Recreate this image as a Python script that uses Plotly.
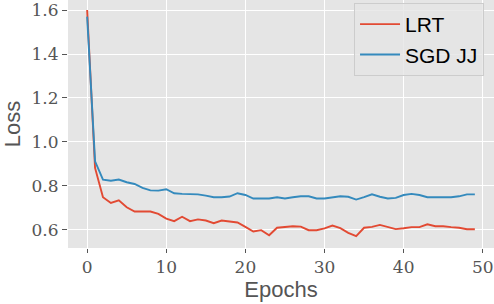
import plotly.graph_objects as go

epochs = list(range(50))
lrt = [1.60, 0.882, 0.749, 0.723, 0.735, 0.703, 0.684, 0.684, 0.684, 0.673,
       0.652, 0.640, 0.660, 0.640, 0.648, 0.643, 0.631, 0.643, 0.639, 0.634,
       0.614, 0.593, 0.599, 0.576, 0.610, 0.613, 0.617, 0.615, 0.599, 0.599,
       0.607, 0.620, 0.608, 0.587, 0.572, 0.610, 0.614, 0.623, 0.613, 0.604,
       0.608, 0.613, 0.613, 0.626, 0.617, 0.617, 0.613, 0.610, 0.603, 0.603]
sgd_jj = [1.57, 0.912, 0.829, 0.824, 0.829, 0.817, 0.809, 0.791, 0.780, 0.779,
          0.785, 0.767, 0.764, 0.764, 0.762, 0.756, 0.749, 0.749, 0.752, 0.767,
          0.759, 0.743, 0.743, 0.743, 0.749, 0.743, 0.749, 0.753, 0.753, 0.743,
          0.743, 0.749, 0.753, 0.751, 0.738, 0.749, 0.762, 0.751, 0.743, 0.746,
          0.759, 0.764, 0.759, 0.749, 0.749, 0.749, 0.749, 0.753, 0.762, 0.762]
x_ticks = [0, 10, 20, 30, 40, 50]
y_ticks = [0.6, 0.8, 1.0, 1.2, 1.4, 1.6]
y_tick_text = ["0.6", "0.8", "1.0", "1.2", "1.4", "1.6"]

fig = go.Figure()
fig.add_trace(go.Scatter(x=epochs, y=lrt, mode="lines", name="LRT",
                         line=dict(color="#E24A33", width=1.9)))
fig.add_trace(go.Scatter(x=epochs, y=sgd_jj, mode="lines", name="SGD JJ",
                         line=dict(color="#348ABD", width=1.9)))

tick_font = dict(family="DejaVu Serif", size=17, color="#555555")
title_font = dict(family="Liberation Sans, Arial, sans-serif", size=22, color="#555555")

fig.update_layout(
    width=494, height=304,
    margin=dict(l=67.5, r=0, t=0, b=56, autoexpand=False),
    paper_bgcolor="white",
    plot_bgcolor="#E5E5E5",
    showlegend=True,
    legend=dict(
        x=0.9766, y=0.988, xanchor="right", yanchor="top",
        bgcolor="rgba(229,229,229,0.8)", bordercolor="#CCCCCC", borderwidth=1,
        font=dict(family="Liberation Sans, Arial, sans-serif", size=21, color="black"),
        tracegroupgap=0, itemwidth=40,
    ),
    xaxis=dict(
        range=[-2.42, 51.42], tickvals=x_ticks, ticktext=[str(v) for v in x_ticks],
        showgrid=True, gridcolor="white", gridwidth=1.3, zeroline=False,
        ticks="outside", ticklen=4, tickcolor="#555555", tickwidth=1,
        tickfont=tick_font, showline=False, automargin=False,
        ticklabeloverflow="allow",
        title=dict(text="Epochs", font=title_font, standoff=4),
    ),
    yaxis=dict(
        range=[0.518, 1.6455], tickvals=y_ticks, ticktext=y_tick_text,
        showgrid=True, gridcolor="white", gridwidth=1.3, zeroline=False,
        ticks="outside", ticklen=5, tickcolor="#555555", tickwidth=1,
        tickfont=tick_font, showline=False, automargin=False,
        ticklabeloverflow="allow",
        title=dict(text="Loss", font=title_font, standoff=6),
    ),
)

fig.write_html("out.html", config={"displayModeBar": False},
               post_script="document.body.style.margin='0px';")
